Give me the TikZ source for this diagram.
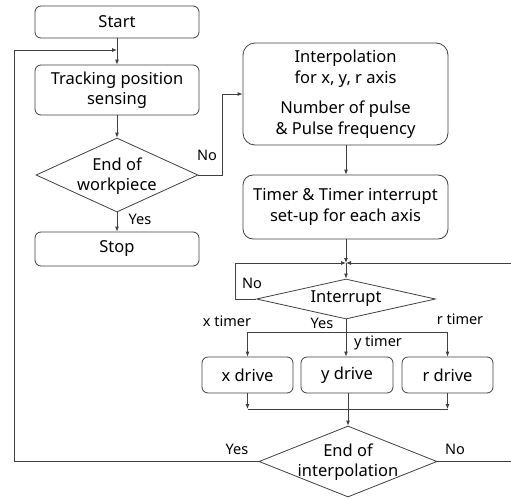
\documentclass[tikz,border=0pt]{standalone}
\usepackage{fontspec}
\setmainfont{Noto Sans}
\usetikzlibrary{shapes.geometric,arrows.meta}
\definecolor{ln}{HTML}{404040}
\begin{document}
\begin{tikzpicture}[x=1pt,y=-1pt,
  every node/.style={font=\fontsize{16.5}{20.5}\selectfont, text=black},
  box/.style={draw=ln, line width=0.8pt, rounded corners=6pt, align=center, inner sep=0pt},
  dia/.style={draw=ln, line width=0.8pt, diamond, inner sep=0pt},
  lbl/.style={font=\fontsize{14.5}{17}\selectfont, inner sep=0pt},
  conn/.style={draw=ln, line width=0.8pt},
  arr/.style={conn, -{Latex[length=5pt,width=4pt]}}]
\useasboundingbox (0,0) rectangle (511,498);
% nodes
\node[box, minimum width=164pt, minimum height=32pt] (start) at (117,22) {Start};
\node[box, minimum width=164pt, minimum height=50pt] (track) at (117,90) {Tracking position\\sensing};
\node[dia, minimum width=162pt, minimum height=74pt] (wp) at (117,175) {};
\node[align=center] (wpt) at (117,176) {End of\\workpiece};
\node[box, minimum width=164pt, minimum height=34pt] (stop) at (117,249) {Stop};
\node[box, rounded corners=12pt, minimum width=205pt, minimum height=102pt] (interp) at (345.5,94) {Interpolation\\for x, y, r axis\\[10pt]Number of pulse\\\& Pulse frequency};
\node[box, rounded corners=10pt, minimum width=205pt, minimum height=64pt] (timer) at (345.5,207) {Timer \& Timer interrupt\\set-up for each axis};
\node[dia, minimum width=179pt, minimum height=40pt] (int) at (346,299) {};
\node (intt) at (346,299) {Interrupt};
\node[box, minimum width=91pt, minimum height=36pt] (xd) at (247.5,375) {x drive};
\node[box, minimum width=92pt, minimum height=36pt] (yd) at (347,375) {y drive};
\node[box, minimum width=91pt, minimum height=36pt] (rd) at (447.5,375) {r drive};
\node[dia, minimum width=178pt, minimum height=71pt] (endi) at (348,461.5) {};
\node[align=center] (endt) at (348,462) {End of\\interpolation};
% coordinates
\coordinate (L) at (117,50);
\coordinate (J) at (346,263);
\coordinate (B) at (346,332);
\coordinate (M) at (346,409);
% connectors
\draw[arr] (start.south) -- (track.north);
\draw[arr] (track.south) -- (wp.north);
\draw[arr] (wp.south) -- (stop.north);
\draw[arr] (wp.east) -- (222,175) |- (interp.west);
\draw[arr] (interp.south -| J) -- (timer.north -| J);
\draw[arr] (timer.south -| J) -- (J);
\draw[arr] (J) -- (int.north);
\draw[arr] (int.west) -- (235,299) |- (J);
\draw[arr] (endi.east) -- (513,461.5) |- (J);
\draw[arr] (endi.west) -- (14,461.5) |- (L);
\draw[arr] (int.south) -- (yd.north -| int.south);
\draw[conn] (xd.north |- B) -- (rd.north |- B);
\draw[arr] (xd.north |- B) -- (xd.north);
\draw[arr] (rd.north |- B) -- (rd.north);
\draw[arr] (xd.south) -- (xd.south |- M);
\draw[arr] (rd.south) -- (rd.south |- M);
\draw[conn] (xd.south |- M) -- (rd.south |- M);
\draw[arr] (yd.south -| endi.north) -- (endi.north);
% labels
\node[lbl] (l1) at (207,155) {No};
\node[lbl] (l2) at (140,219) {Yes};
\node[lbl] (l3) at (252,283) {No};
\node[lbl] (l4) at (322,323) {Yes};
\node[lbl] (l5) at (227,321) {x timer};
\node[lbl] (l6) at (460,319) {r timer};
\node[lbl] (l7) at (378,343) {y timer};
\node[lbl] (l8) at (237,449) {Yes};
\node[lbl] (l9) at (455,449) {No};
\end{tikzpicture}
\end{document}
